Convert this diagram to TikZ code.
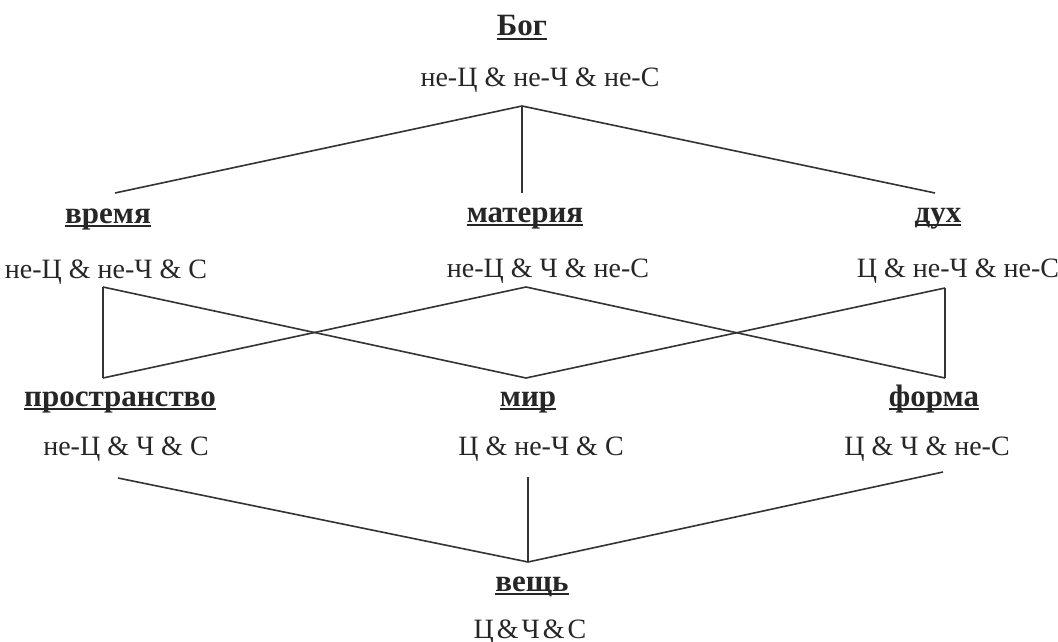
\documentclass[tikz,border=0pt]{standalone}
\usepackage{fontspec}
\setmainfont{Liberation Serif}
\newcommand\myul[1]{\setbox0\hbox{#1}\rlap{\vrule height -2.2pt depth 4.2pt width \wd0}\box0}
\begin{document}
\begin{tikzpicture}[x=1pt,y=-1pt,
  ttl/.style={anchor=base, inner sep=0pt, font=\fontsize{31}{36}\selectfont\bfseries, text=black!85},
  frm/.style={anchor=base, inner sep=0pt, font=\fontsize{28}{34}\selectfont, text=black!85},
  edge/.style={draw=black!80, line width=1.6pt},
  thinedge/.style={draw=black!80, line width=1.1pt}]
\useasboundingbox (0,0) rectangle (1058,642);
% titles and formulas
\node[ttl] (bog) at (522,36) {\myul{Бог}};
\node[frm] (bogf) at (540,87) {не-Ц \& не-Ч \& не-С};
\node[ttl] (vremya) at (108,223) {\myul{время}};
\node[frm] (vremyaf) at (106,278) {не-Ц \& не-Ч \& С};
\node[ttl] (materiya) at (525,222) {\myul{материя}};
\node[frm] (materiyaf) at (548,277) {не-Ц \& Ч \& не-С};
\node[ttl] (duh) at (938,222) {\myul{дух}};
\node[frm] (duhf) at (958,277) {Ц \& не-Ч \& не-С};
\node[ttl] (prostr) at (120,406) {\myul{пространство}};
\node[frm] (prostrf) at (126,455) {не-Ц \& Ч \& С};
\node[ttl] (mir) at (528,406) {\myul{мир}};
\node[frm] (mirf) at (541,455) {Ц \& не-Ч \& С};
\node[ttl] (forma) at (934,406) {\myul{форма}};
\node[frm] (formaf) at (927,455) {Ц \& Ч \& не-С};
\node[ttl] (veshch) at (532,591) {\myul{вещь}};
\node[frm] (veshchf) at (530,638) {Ц\kern3pt\&\kern3ptЧ\kern3pt\&\kern3ptС};
% connector points
\coordinate (bogB) at (522,106);
\coordinate (vremyaT) at (115,193);
\coordinate (materiyaT) at (522,193);
\coordinate (duhT) at (935,193);
\coordinate (vremyaB) at (103,287);
\coordinate (materiyaB) at (526,287);
\coordinate (duhB) at (945,288);
\coordinate (prostrT) at (103,378);
\coordinate (mirT) at (526,378);
\coordinate (formaT) at (945,378);
\coordinate (prostrB) at (118,478);
\coordinate (mirB) at (528,477);
\coordinate (formaB) at (943,472);
\coordinate (veshchT) at (528,562);
% connectors
\draw[edge] (bogB) -- (vremyaT);
\draw[thinedge] (bogB) -- (materiyaT);
\draw[edge] (bogB) -- (duhT);
\draw[edge] (vremyaB) -- (prostrT);
\draw[edge] (vremyaB) -- (mirT);
\draw[edge] (materiyaB) -- (prostrT);
\draw[edge] (materiyaB) -- (formaT);
\draw[edge] (duhB) -- (mirT);
\draw[edge] (duhB) -- (formaT);
\draw[edge] (prostrB) -- (veshchT);
\draw[thinedge] (mirB) -- (veshchT);
\draw[edge] (formaB) -- (veshchT);
\end{tikzpicture}
\end{document}
